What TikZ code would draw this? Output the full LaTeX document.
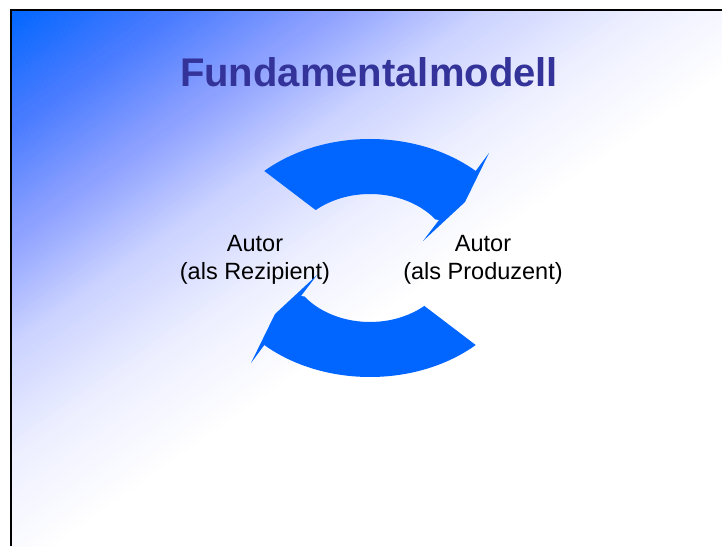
\documentclass[tikz,border=0pt]{standalone}
\usepackage{fontspec}
\setmainfont{Liberation Sans}
\usepackage{xcolor}
\usepackage{tikz}
\definecolor{folienblau}{RGB}{0,102,255}
\definecolor{titelblau}{RGB}{51,51,153}
\definecolor{verlaufa}{RGB}{70,122,255}
\definecolor{verlaufb}{RGB}{140,160,255}
\definecolor{verlaufc}{RGB}{205,212,255}
\definecolor{verlaufd}{RGB}{238,240,255}
\definecolor{verlaufe}{RGB}{255,255,255}
\tikzstyle{titelnode}=[text=titelblau, font=\fontsize{40}{44}\selectfont\bfseries, inner sep=0pt, anchor=base]
\tikzstyle{autornode}=[text=black, font=\fontsize{23.5}{28}\selectfont, align=center, inner sep=0pt]
\tikzstyle{kreispfeil}=[fill=folienblau, draw=none]

\begin{document}
\begin{tikzpicture}[x=1pt, y=1pt]
\useasboundingbox (0,0) rectangle (722,546);
\fill[white] (0,0) rectangle (722,546);
% Hintergrund mit Verlauf
\begin{scope}
\clip (10.5,0) rectangle (722,535.5);
\begin{scope}[shift={(10,536)}, rotate=-54.8]
\foreach \a/\b/\s in {folienblau/verlaufa/0, verlaufa/verlaufb/1, verlaufb/verlaufc/2, verlaufc/verlaufd/3, verlaufd/verlaufe/4}
  \foreach \k in {0,...,30}
    \fill[\b!\fpeval{\k/30*100}!\a] (\s*93+\k*3,-800) rectangle (\s*93+\k*3+3.4,800);
\end{scope}
\end{scope}
\draw[line width=2pt, black] (10.5,0) -- (10.5,535.5) -- (722,535.5);

\coordinate (kreis) at (370,288);
\node[titelnode] (titel) at (369,459.3) {Fundamentalmodell};
\node[autornode] (rezipient) at (255,286) {Autor\\(als Rezipient)};
\node[autornode] (produzent) at (483,286) {Autor\\(als Produzent)};

% Kreispfeile
\begin{scope}[shift={(kreis)}]
\fill[kreispfeil] (133:155 and 119) arc[start angle=133, end angle=47, x radius=155pt, y radius=119pt] -- (119,105) -- (95,56) -- (53,17) -- (69,38) -- (37:82 and 64) arc[start angle=37, end angle=131.5, x radius=82pt, y radius=64pt] -- cycle;
\end{scope}
\begin{scope}[shift={(kreis)}, rotate=180]
\fill[kreispfeil] (133:155 and 119) arc[start angle=133, end angle=47, x radius=155pt, y radius=119pt] -- (119,105) -- (95,56) -- (53,17) -- (69,38) -- (37:82 and 64) arc[start angle=37, end angle=131.5, x radius=82pt, y radius=64pt] -- cycle;
\end{scope}
\end{tikzpicture}
\end{document}
